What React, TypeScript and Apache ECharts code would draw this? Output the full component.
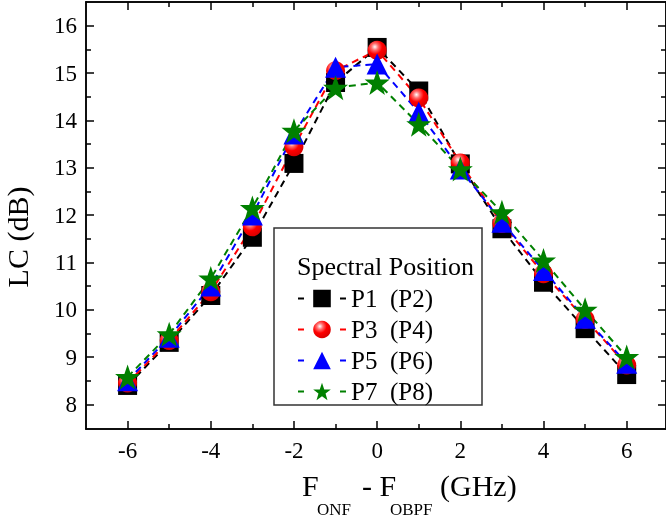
import React, { useEffect, useRef } from "react";
import * as echarts from "echarts";

const freq = [-6, -5, -4, -3, -2, -1, 0, 1, 2, 3, 4, 5, 6];
const seriesNames = ["P1  (P2)", "P3  (P4)", "P5  (P6)", "P7  (P8)"];
const p1 = [8.40, 9.31, 10.30, 11.53, 13.09, 14.80, 15.54, 14.62, 13.08, 11.71, 10.58, 9.60, 8.63];
const p3 = [8.45, 9.35, 10.38, 11.75, 13.44, 15.05, 15.48, 14.47, 13.10, 11.82, 10.76, 9.80, 8.83];
const p5 = [8.50, 9.42, 10.50, 12.00, 13.71, 15.12, 15.19, 14.17, 12.97, 11.85, 10.83, 9.82, 8.87];
const p7 = [8.58, 9.48, 10.66, 12.15, 13.78, 14.69, 14.80, 13.92, 12.97, 12.06, 11.04, 10.00, 9.00];
const xMajorTicks = [-6, -4, -2, 0, 2, 4, 6];
const xMinorTicks = [-5, -3, -1, 1, 3, 5];
const yMajorTicks = [8, 9, 10, 11, 12, 13, 14, 15, 16];
const yMinorTicks = [8.5, 9.5, 10.5, 11.5, 12.5, 13.5, 14.5, 15.5];
const legendTitle = "Spectral Position";
const yName = "LC (dB)";

const FONT = '"Liberation Serif", "Times New Roman", serif';
const STAR =
  "path://M12,0 L14.9,8.3 L23.4,8.3 L16.6,13.5 L19.1,21.8 L12,16.8 L4.9,21.8 L7.4,13.5 L0.6,8.3 L9.1,8.3 Z";

export default function App() {
  const ref = useRef<HTMLDivElement>(null);
  useEffect(() => {
    if (!ref.current) return;
    const chart = echarts.init(ref.current, null, { renderer: "svg" });
    const axisLine = { show: true, onZero: false, lineStyle: { color: "#000", width: 1.5 } };
    const xBase = { type: "value", min: -7, max: 6.945, splitLine: { show: false }, axisLine };
    const yBase = { type: "value", min: 7.48, max: 16.5, splitLine: { show: false }, axisLine };
    const tick = (vals: number[], len: number) => ({
      show: true,
      inside: true,
      length: len,
      customValues: vals,
      lineStyle: { color: "#000", width: 1.5 },
    });
    const noLabel = { show: false };
    const redGrad = {
      type: "radial",
      x: 0.38,
      y: 0.32,
      r: 0.7,
      colorStops: [
        { offset: 0, color: "#ffffff" },
        { offset: 0.25, color: "#ff7070" },
        { offset: 0.55, color: "#ff0000" },
        { offset: 1, color: "#d80000" },
      ],
    };
    const mk = (name: string, vals: number[], color: string, symbol: string, size: number, itemColor: any) => ({
      name,
      type: "line",
      data: freq.map((f, i) => [f, vals[i]]),
      symbol,
      symbolSize: size,
      lineStyle: { color, width: 2, type: [7, 5] },
      itemStyle: { color: itemColor, borderWidth: 0 },
      z: 3,
    });
    chart.setOption({
      animation: false,
      grid: { left: 86, right: -1, top: 2, bottom: 92 },
      xAxis: [
        {
          ...xBase,
          position: "bottom",
          axisTick: tick(xMajorTicks, 8),
          axisLabel: {
            customValues: xMajorTicks,
            fontFamily: FONT,
            fontSize: 23,
            color: "#000",
            margin: 10,
          },
        },
        { ...xBase, position: "bottom", axisTick: tick(xMinorTicks, 5), axisLabel: noLabel },
        { ...xBase, position: "top", axisTick: tick(xMajorTicks, 8), axisLabel: noLabel },
        { ...xBase, position: "top", axisTick: tick(xMinorTicks, 5), axisLabel: noLabel },
      ],
      yAxis: [
        {
          ...yBase,
          position: "left",
          axisTick: tick(yMajorTicks, 8),
          axisLabel: {
            customValues: yMajorTicks,
            fontFamily: FONT,
            fontSize: 23,
            color: "#000",
            margin: 9,
          },
        },
        { ...yBase, position: "left", axisTick: tick(yMinorTicks, 5), axisLabel: noLabel },
        { ...yBase, position: "right", axisTick: tick(yMajorTicks, 8), axisLabel: noLabel },
        { ...yBase, position: "right", axisTick: tick(yMinorTicks, 5), axisLabel: noLabel },
      ],
      legend: {
        orient: "vertical",
        left: 292,
        top: 281,
        itemWidth: 48,
        itemHeight: 22,
        itemGap: 6,
        padding: 5,
        data: seriesNames,
        textStyle: { fontFamily: FONT, fontSize: 25, color: "#000" },
        lineStyle: { type: [6, 36], width: 2 },
        z: 5,
      },
      graphic: [
        {
          type: "rect",
          shape: { x: 274, y: 228, width: 208, height: 177 },
          style: { fill: "#fff", stroke: "#333", lineWidth: 1.5 },
          z: 4,
        },
        {
          type: "text",
          x: 297,
          y: 266,
          style: { text: legendTitle, font: `26px ${FONT}`, fill: "#000", verticalAlign: "middle" },
          z: 5,
        },
        {
          type: "text",
          x: 17,
          y: 237,
          rotation: Math.PI / 2,
          style: { text: yName, font: `30px ${FONT}`, fill: "#000", align: "center", verticalAlign: "middle" },
        },
        { type: "text", x: 302, y: 485, style: { text: "F", font: `30px ${FONT}`, fill: "#000", verticalAlign: "middle" } },
        { type: "text", x: 317, y: 509, style: { text: "ONF", font: `17px ${FONT}`, fill: "#000", verticalAlign: "middle" } },
        { type: "text", x: 362, y: 485, style: { text: "- F", font: `30px ${FONT}`, fill: "#000", verticalAlign: "middle" } },
        { type: "text", x: 390, y: 509, style: { text: "OBPF", font: `17px ${FONT}`, fill: "#000", verticalAlign: "middle" } },
        { type: "text", x: 440, y: 485, style: { text: "(GHz)", font: `30px ${FONT}`, fill: "#000", verticalAlign: "middle" } },
      ],
      series: [
        mk(seriesNames[0], p1, "#000000", "rect", 19, "#000000"),
        mk(seriesNames[1], p3, "#ff0000", "circle", 19, redGrad),
        mk(seriesNames[2], p5, "#0000ff", "triangle", 21, "#0000ff"),
        mk(seriesNames[3], p7, "#008000", STAR, 25, "#008000"),
      ],
    });
    return () => chart.dispose();
  }, []);
  return <div ref={ref} style={{ position: "fixed", left: 0, top: 0, width: 666, height: 521 }} />;
}
